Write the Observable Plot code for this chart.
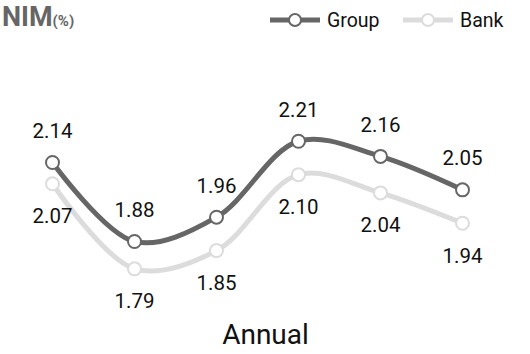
<!DOCTYPE html>
<html>
<head>
<meta charset="utf-8">
<script src="https://cdn.jsdelivr.net/npm/d3@7"></script>
<script src="https://cdn.jsdelivr.net/npm/@observablehq/plot@0.6"></script>
<style>
  body { margin: 0; background: #fff; width: 530px; height: 354px; overflow: hidden; font-family: Roboto, "Noto Sans", sans-serif; }
  #header { position: relative; height: 40px; width: 530px; }
  #title { position: absolute; left: 2px; top: 1px; color: #666; font-family: Roboto, sans-serif; font-weight: bold; font-size: 27px; white-space: nowrap; }
  #title span { font-size: 15px; }
  #legend { position: absolute; left: 260px; top: 0; }
</style>
</head>
<body>
<div id="header">
  <div id="title">NIM<span>(%)</span></div>
  <svg id="legend" width="270" height="40"></svg>
</div>
<div id="chart"></div>
<script>
const periods = ["1", "2", "3", "4", "5", "6"];
const groupValues = [2.14, 1.88, 1.96, 2.21, 2.16, 2.05];
const bankValues = [2.07, 1.79, 1.85, 2.10, 2.04, 1.94];
const seriesNames = ["Group", "Bank"];
const seriesColors = ["#666666", "#dcdcdc"];
const xLabel = "Annual";

const group = periods.map((p, i) => ({p, v: groupValues[i]}));
const bank = periods.map((p, i) => ({p, v: bankValues[i]}));

// legend (svg offset 260px from the left)
const leg = d3.select("#legend");
const legendItems = [
  {name: seriesNames[0], color: seriesColors[0], x0: 10, x1: 60, tx: 67},
  {name: seriesNames[1], color: seriesColors[1], x0: 143, x1: 193, tx: 200}
];
for (const it of legendItems) {
  leg.append("line").attr("x1", it.x0).attr("x2", it.x1).attr("y1", 20).attr("y2", 20)
    .attr("stroke", it.color).attr("stroke-width", 5);
  leg.append("circle").attr("cx", (it.x0 + it.x1) / 2).attr("cy", 20).attr("r", 6)
    .attr("fill", "#fff").attr("stroke", it.color).attr("stroke-width", 2);
  leg.append("text").attr("x", it.tx).attr("y", 27).attr("fill", "#111")
    .attr("font-family", "Roboto, sans-serif").attr("font-size", 19.5).text(it.name);
}

const chart = Plot.plot({
  width: 530,
  height: 314,
  marginTop: 0, marginBottom: 0, marginLeft: 0, marginRight: 0,
  x: {type: "point", domain: periods, range: [50, 464], padding: 0, axis: null},
  y: {domain: [1.508, 2.5416], axis: null},
  style: {fontFamily: "Roboto, sans-serif", background: "#fff"},
  marks: [
    Plot.line(bank, {x: "p", y: "v", stroke: seriesColors[1], strokeWidth: 5, curve: "catmull-rom"}),
    Plot.dot(bank, {x: "p", y: "v", r: 6.5, fill: "#fff", stroke: seriesColors[1], strokeWidth: 2}),
    Plot.line(group, {x: "p", y: "v", stroke: seriesColors[0], strokeWidth: 5, curve: "catmull-rom"}),
    Plot.dot(group, {x: "p", y: "v", r: 6.5, fill: "#fff", stroke: seriesColors[0], strokeWidth: 2}),
    Plot.text(group, {x: "p", y: "v", text: d => d.v.toFixed(2), dy: -31, fontSize: 20.5, fill: "#111"}),
    Plot.text(bank, {x: "p", y: "v", text: d => d.v.toFixed(2), dy: 33, fontSize: 20.5, fill: "#111"}),
    Plot.text([xLabel], {frameAnchor: "bottom", text: d => d, dy: -11, fontSize: 28, fill: "#111"})
  ]
});
document.getElementById("chart").appendChild(chart);
</script>
</body>
</html>
